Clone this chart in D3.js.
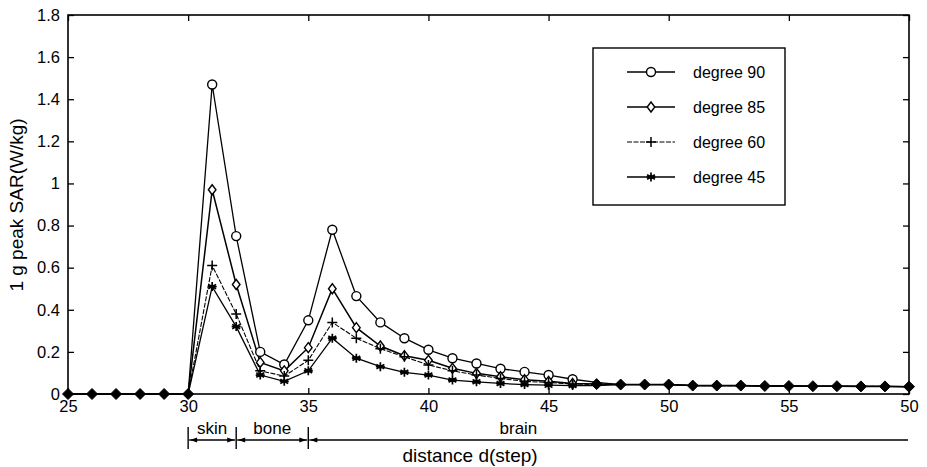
<!DOCTYPE html>
<html>
<head>
<meta charset="utf-8">
<script src="https://cdn.jsdelivr.net/npm/d3@7"></script>
<style>
  html, body { margin: 0; padding: 0; background: #fff; }
  svg { display: block; font-family: "Liberation Sans", Arial, Helvetica, sans-serif; }
</style>
</head>
<body>
<svg id="chart" width="927" height="467"></svg>
<script>
// ---------------- data ----------------
const steps = [25,26,27,28,29,30,31,32,33,34,35,36,37,38,39,40,41,42,43,44,45,46,47,48,49,50,51,52,53,54,55,56,57,58,59,60];
const xTickValues = [25,30,35,40,45,50,55,60];
const xTickLabels = ["25","30","35","40","45","50","55","50"];
const yTickValues = [0,0.2,0.4,0.6,0.8,1,1.2,1.4,1.6,1.8];
const yTickLabels = ["0","0.2","0.4","0.6","0.8","1","1.2","1.4","1.6","1.8"];

const deg90 = [0,0,0,0,0,0, 1.47,0.75,0.20,0.14,0.35,0.78,0.465,0.34,0.265,0.21,0.17,0.145,0.12,0.105,0.09,0.07,0.055,0.045,0.045,0.045,0.04,0.04,0.04,0.038,0.038,0.037,0.037,0.036,0.036,0.035];
const deg85 = [0,0,0,0,0,0, 0.97,0.52,0.15,0.11,0.22,0.50,0.315,0.228,0.182,0.16,0.122,0.098,0.082,0.068,0.06,0.05,0.048,0.045,0.045,0.045,0.04,0.04,0.04,0.038,0.038,0.037,0.037,0.036,0.036,0.035];
const deg60 = [0,0,0,0,0,0, 0.61,0.38,0.11,0.085,0.16,0.34,0.265,0.215,0.177,0.138,0.11,0.09,0.074,0.06,0.055,0.047,0.045,0.045,0.045,0.045,0.04,0.04,0.04,0.038,0.038,0.037,0.037,0.036,0.036,0.035];
const deg45 = [0,0,0,0,0,0, 0.51,0.32,0.09,0.06,0.11,0.265,0.17,0.13,0.103,0.09,0.066,0.058,0.05,0.045,0.042,0.04,0.04,0.045,0.045,0.045,0.04,0.04,0.04,0.038,0.038,0.037,0.037,0.036,0.036,0.035];

const seriesNames = ["degree 90","degree 85","degree 60","degree 45"];
const seriesMarkers = ["circle","diamond","plus","star"];

const regionNames = ["skin","bone","brain"];
const regionStarts = [30,32,35];
const regionEnds = [32,35,60];

const xTitle = "distance d(step)";
const yTitle = "1 g peak SAR(W/kg)";

// ---------------- layout ----------------
const W = 927, H = 467;
const plot = {left: 68, right: 909, top: 15, bottom: 394};
const svg = d3.select("#chart");

const x = d3.scaleLinear().domain([25,60]).range([plot.left, plot.right]);
const y = d3.scaleLinear().domain([0,1.8]).range([plot.bottom, plot.top]);

const series = [deg90, deg85, deg60, deg45].map((vals, i) => ({
  name: seriesNames[i], marker: seriesMarkers[i],
  points: steps.map((s, j) => ({x: s, y: vals[j]}))
}));

// ---------------- axes ----------------
const tickFont = 16.5;
const gx = svg.append("g").attr("transform", `translate(0,${plot.bottom})`)
  .call(d3.axisBottom(x).tickValues(xTickValues).tickFormat((d,i)=>xTickLabels[i]).tickSizeInner(-6).tickSizeOuter(0).tickPadding(6));
const gxt = svg.append("g").attr("transform", `translate(0,${plot.top})`)
  .call(d3.axisTop(x).tickValues(xTickValues).tickFormat("").tickSizeInner(-6).tickSizeOuter(0));
const gy = svg.append("g").attr("transform", `translate(${plot.left},0)`)
  .call(d3.axisLeft(y).tickValues(yTickValues).tickFormat((d,i)=>yTickLabels[i]).tickSizeInner(-6).tickSizeOuter(0).tickPadding(8));
const gyr = svg.append("g").attr("transform", `translate(${plot.right},0)`)
  .call(d3.axisRight(y).tickValues(yTickValues).tickFormat("").tickSizeInner(-6).tickSizeOuter(0));

[gx,gxt,gy,gyr].forEach(g => {
  g.select(".domain").remove();
  g.selectAll("line").attr("stroke","#000").attr("stroke-width",1.3);
  g.selectAll("text").attr("fill","#000").attr("font-size",tickFont).attr("font-family",null);
});

// frame
svg.append("rect").attr("x",plot.left).attr("y",plot.top)
  .attr("width",plot.right-plot.left).attr("height",plot.bottom-plot.top)
  .attr("fill","none").attr("stroke","#000").attr("stroke-width",1.6);

// ---------------- markers ----------------
function drawMarker(g, type, cx, cy) {
  if (type === "circle") {
    g.append("circle").attr("cx",cx).attr("cy",cy).attr("r",4.5)
      .attr("fill","#fff").attr("stroke","#000").attr("stroke-width",1.4);
  } else if (type === "diamond") {
    g.append("path").attr("d",`M${cx},${cy-5}L${cx+3.8},${cy}L${cx},${cy+5}L${cx-3.8},${cy}Z`)
      .attr("fill","#fff").attr("stroke","#000").attr("stroke-width",1.4);
  } else if (type === "plus") {
    g.append("path").attr("d",`M${cx-5},${cy}H${cx+5}M${cx},${cy-5}V${cy+5}`)
      .attr("stroke","#000").attr("stroke-width",1.5).attr("fill","none");
  } else if (type === "star") {
    const r = 4.5;
    let d = "";
    [0,60,120].forEach(a => {
      const t = a*Math.PI/180;
      d += `M${cx-r*Math.sin(t)},${cy-r*Math.cos(t)}L${cx+r*Math.sin(t)},${cy+r*Math.cos(t)}`;
    });
    d += `M${cx-r},${cy}L${cx+r},${cy}`;
    g.append("path").attr("d",d).attr("stroke","#000").attr("stroke-width",1.7).attr("fill","none");
    g.append("circle").attr("cx",cx).attr("cy",cy).attr("r",2).attr("fill","#000");
  } else if (type === "filled") {
    g.append("path").attr("d",`M${cx},${cy-5.5}L${cx+5.5},${cy}L${cx},${cy+5.5}L${cx-5.5},${cy}Z`)
      .attr("fill","#000").attr("stroke","#000").attr("stroke-width",1);
  }
}

const line = d3.line().x(d => x(d.x)).y(d => y(d.y));
const lineWidths = [1.3, 1.5, 1.1, 1.3];
const dashes = [null, null, "5,1.5", null];

const gLines = svg.append("g");
series.forEach((s,i) => {
  gLines.append("path").datum(s.points).attr("d", line)
    .attr("fill","none").attr("stroke","#000").attr("stroke-width",lineWidths[i])
    .attr("stroke-dasharray", dashes[i]);
});

// merged points (all series coincide) drawn as filled diamonds
const merged = steps.map((s,j) => {
  const vals = series.map(se => se.points[j].y);
  return {x: s, spread: d3.max(vals)-d3.min(vals), y: d3.mean(vals)};
});

const gMarks = svg.append("g");
series.forEach(s => {
  s.points.forEach((p,j) => {
    if (merged[j].spread < 0.02) return;
    drawMarker(gMarks, s.marker, x(p.x), y(p.y));
  });
});
merged.forEach(m => { if (m.spread < 0.02) drawMarker(gMarks, "filled", x(m.x), y(m.y)); });

// ---------------- legend ----------------
const lg = svg.append("g");
lg.append("rect").attr("x",593).attr("y",48).attr("width",192).attr("height",157)
  .attr("fill","#fff").attr("stroke","#000").attr("stroke-width",1.4);
series.forEach((s,i) => {
  const ly = 72 + i*35;
  lg.append("line").attr("x1",627).attr("x2",675).attr("y1",ly).attr("y2",ly)
    .attr("stroke","#000").attr("stroke-width",lineWidths[i]).attr("stroke-dasharray",dashes[i]);
  drawMarker(lg, s.marker, 651, ly);
  lg.append("text").attr("x",693).attr("y",ly).attr("dy","0.35em")
    .attr("font-size",16).text(s.name);
});

// ---------------- region annotation ----------------
const ann = svg.append("g");
const arrowY = 440;
function arrowHead(px, dir) {
  ann.append("path").attr("d",`M${px},${arrowY}L${px-dir*7},${arrowY-2.5}L${px-dir*7},${arrowY+2.5}Z`).attr("fill","#000");
}
regionNames.forEach((nm,i) => {
  const x0 = x(regionStarts[i]), x1 = x(regionEnds[i]);
  ann.append("line").attr("x1",x0).attr("x2",x0).attr("y1",427).attr("y2",449).attr("stroke","#000").attr("stroke-width",1.4);
  ann.append("line").attr("x1",x0+1).attr("x2",x1-1).attr("y1",arrowY).attr("y2",arrowY).attr("stroke","#000").attr("stroke-width",1.4);
  arrowHead(x0+2, -1);
  if (i < regionNames.length-1) arrowHead(x1-2, 1);
  const tx = i < regionNames.length-1 ? (x0+x1)/2 : x(40) + 90;
  ann.append("text").attr("x", tx).attr("y", 434).attr("text-anchor","middle")
    .attr("font-size",17).text(nm);
});

// axis titles
svg.append("text").attr("x",470).attr("y",462).attr("text-anchor","middle")
  .attr("font-size",19).text(xTitle);
svg.append("text").attr("transform","translate(23,205) rotate(-90)").attr("text-anchor","middle")
  .attr("font-size",19).text(yTitle);
</script>
</body>
</html>
